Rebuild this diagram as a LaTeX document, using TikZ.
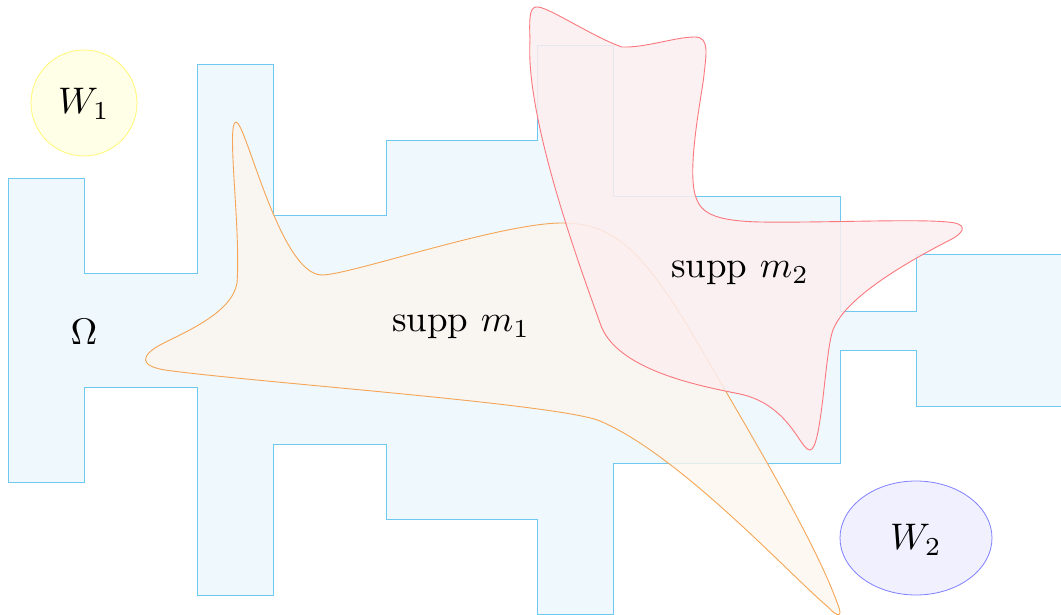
\documentclass[tikz,border=0pt]{standalone}
\usetikzlibrary{shapes.geometric}
\definecolor{omegaline}{RGB}{110,200,240}
\definecolor{omegafill}{RGB}{239,248,253}
\definecolor{oneline}{RGB}{245,165,85}
\definecolor{onefill}{RGB}{252,246,238}
\definecolor{twoline}{RGB}{250,120,125}
\definecolor{twofill}{RGB}{252,238,240}
\newcommand{\biglbl}[1]{\scalebox{3.7}{#1}}
\tikzset{
  omegaregion/.style={draw=omegaline, fill=omegafill, line width=1pt, line join=miter},
  suppone/.style={draw=oneline, fill=onefill, fill opacity=0.8, line width=0.9pt},
  supptwo/.style={draw=twoline, fill=twofill, fill opacity=0.85, line width=0.9pt},
  lbl/.style={inner sep=0pt},
}
\begin{document}
\begin{tikzpicture}[x=1pt,y=-1pt]
\useasboundingbox (0,0) rectangle (1061,615);
% region Omega
\draw[omegaregion] (8,179) -- (84,179) -- (84,273) -- (197,273) -- (197,65) -- (273,65) -- (273,216)
  -- (386,216) -- (386,141) -- (537,141) -- (537,46) -- (613,46) -- (613,197) -- (840,197)
  -- (840,311) -- (916,311) -- (916,254) -- (1064,254) -- (1064,406) -- (916,406) -- (916,350)
  -- (840,350) -- (840,463) -- (613,463) -- (613,614) -- (537,614) -- (537,519) -- (386,519)
  -- (386,444) -- (273,444) -- (273,595) -- (197,595) -- (197,387) -- (84,387) -- (84,482)
  -- (8,482) -- cycle;
% supp m1
\draw[suppone] (236,122) .. controls (246,122) and (280,275) .. (322,275)
  .. controls (350,275) and (500,223) .. (562,223)
  .. controls (615,223) and (645,252) .. (700,347)
  .. controls (745,425) and (815,540) .. (838,605)
  .. controls (843,617) and (838,618) .. (828,607)
  .. controls (790,575) and (680,455) .. (600,421)
  .. controls (560,404) and (250,382) .. (165,370)
  .. controls (140,366) and (140,356) .. (160,345)
  .. controls (185,332) and (232,313) .. (237,283)
  .. controls (241,230) and (226,122) .. (236,122) -- cycle;
% supp m2
\draw[supptwo] (538,7) .. controls (550,8) and (595,38) .. (622,47)
  .. controls (645,48) and (675,37) .. (695,37)
  .. controls (710,37) and (706,55) .. (704,75)
  .. controls (702,95) and (685,175) .. (697,200)
  .. controls (703,215) and (720,221) .. (760,222)
  .. controls (830,223) and (930,218) .. (955,223)
  .. controls (968,226) and (962,234) .. (950,240)
  .. controls (905,263) and (845,298) .. (833,330)
  .. controls (825,350) and (822,450) .. (810,450)
  .. controls (800,450) and (790,405) .. (740,394)
  .. controls (700,386) and (615,370) .. (600,323)
  .. controls (583,275) and (525,120) .. (530,40)
  .. controls (529,15) and (530,6) .. (538,7) -- cycle;
% weights
\node[circle, draw=yellow!55, fill=yellow!10, line width=0.8pt, minimum size=106pt] (w1) at (84,103) {};
\node[ellipse, draw=blue!50, fill=blue!6, line width=0.8pt, minimum width=152pt, minimum height=114pt] (w2) at (916,538) {};
% labels
\node[lbl] (lw1) at (84,104) {\biglbl{$W_1$}};
\node[lbl] (lw2) at (916,540) {\biglbl{$W_2$}};
\node[lbl] (lom) at (84,332) {\biglbl{$\Omega$}};
\node[lbl] (lm1) at (461,327) {\biglbl{supp $m_1$}};
\node[lbl] (lm2) at (740,273) {\biglbl{supp $m_2$}};
\end{tikzpicture}
\end{document}
